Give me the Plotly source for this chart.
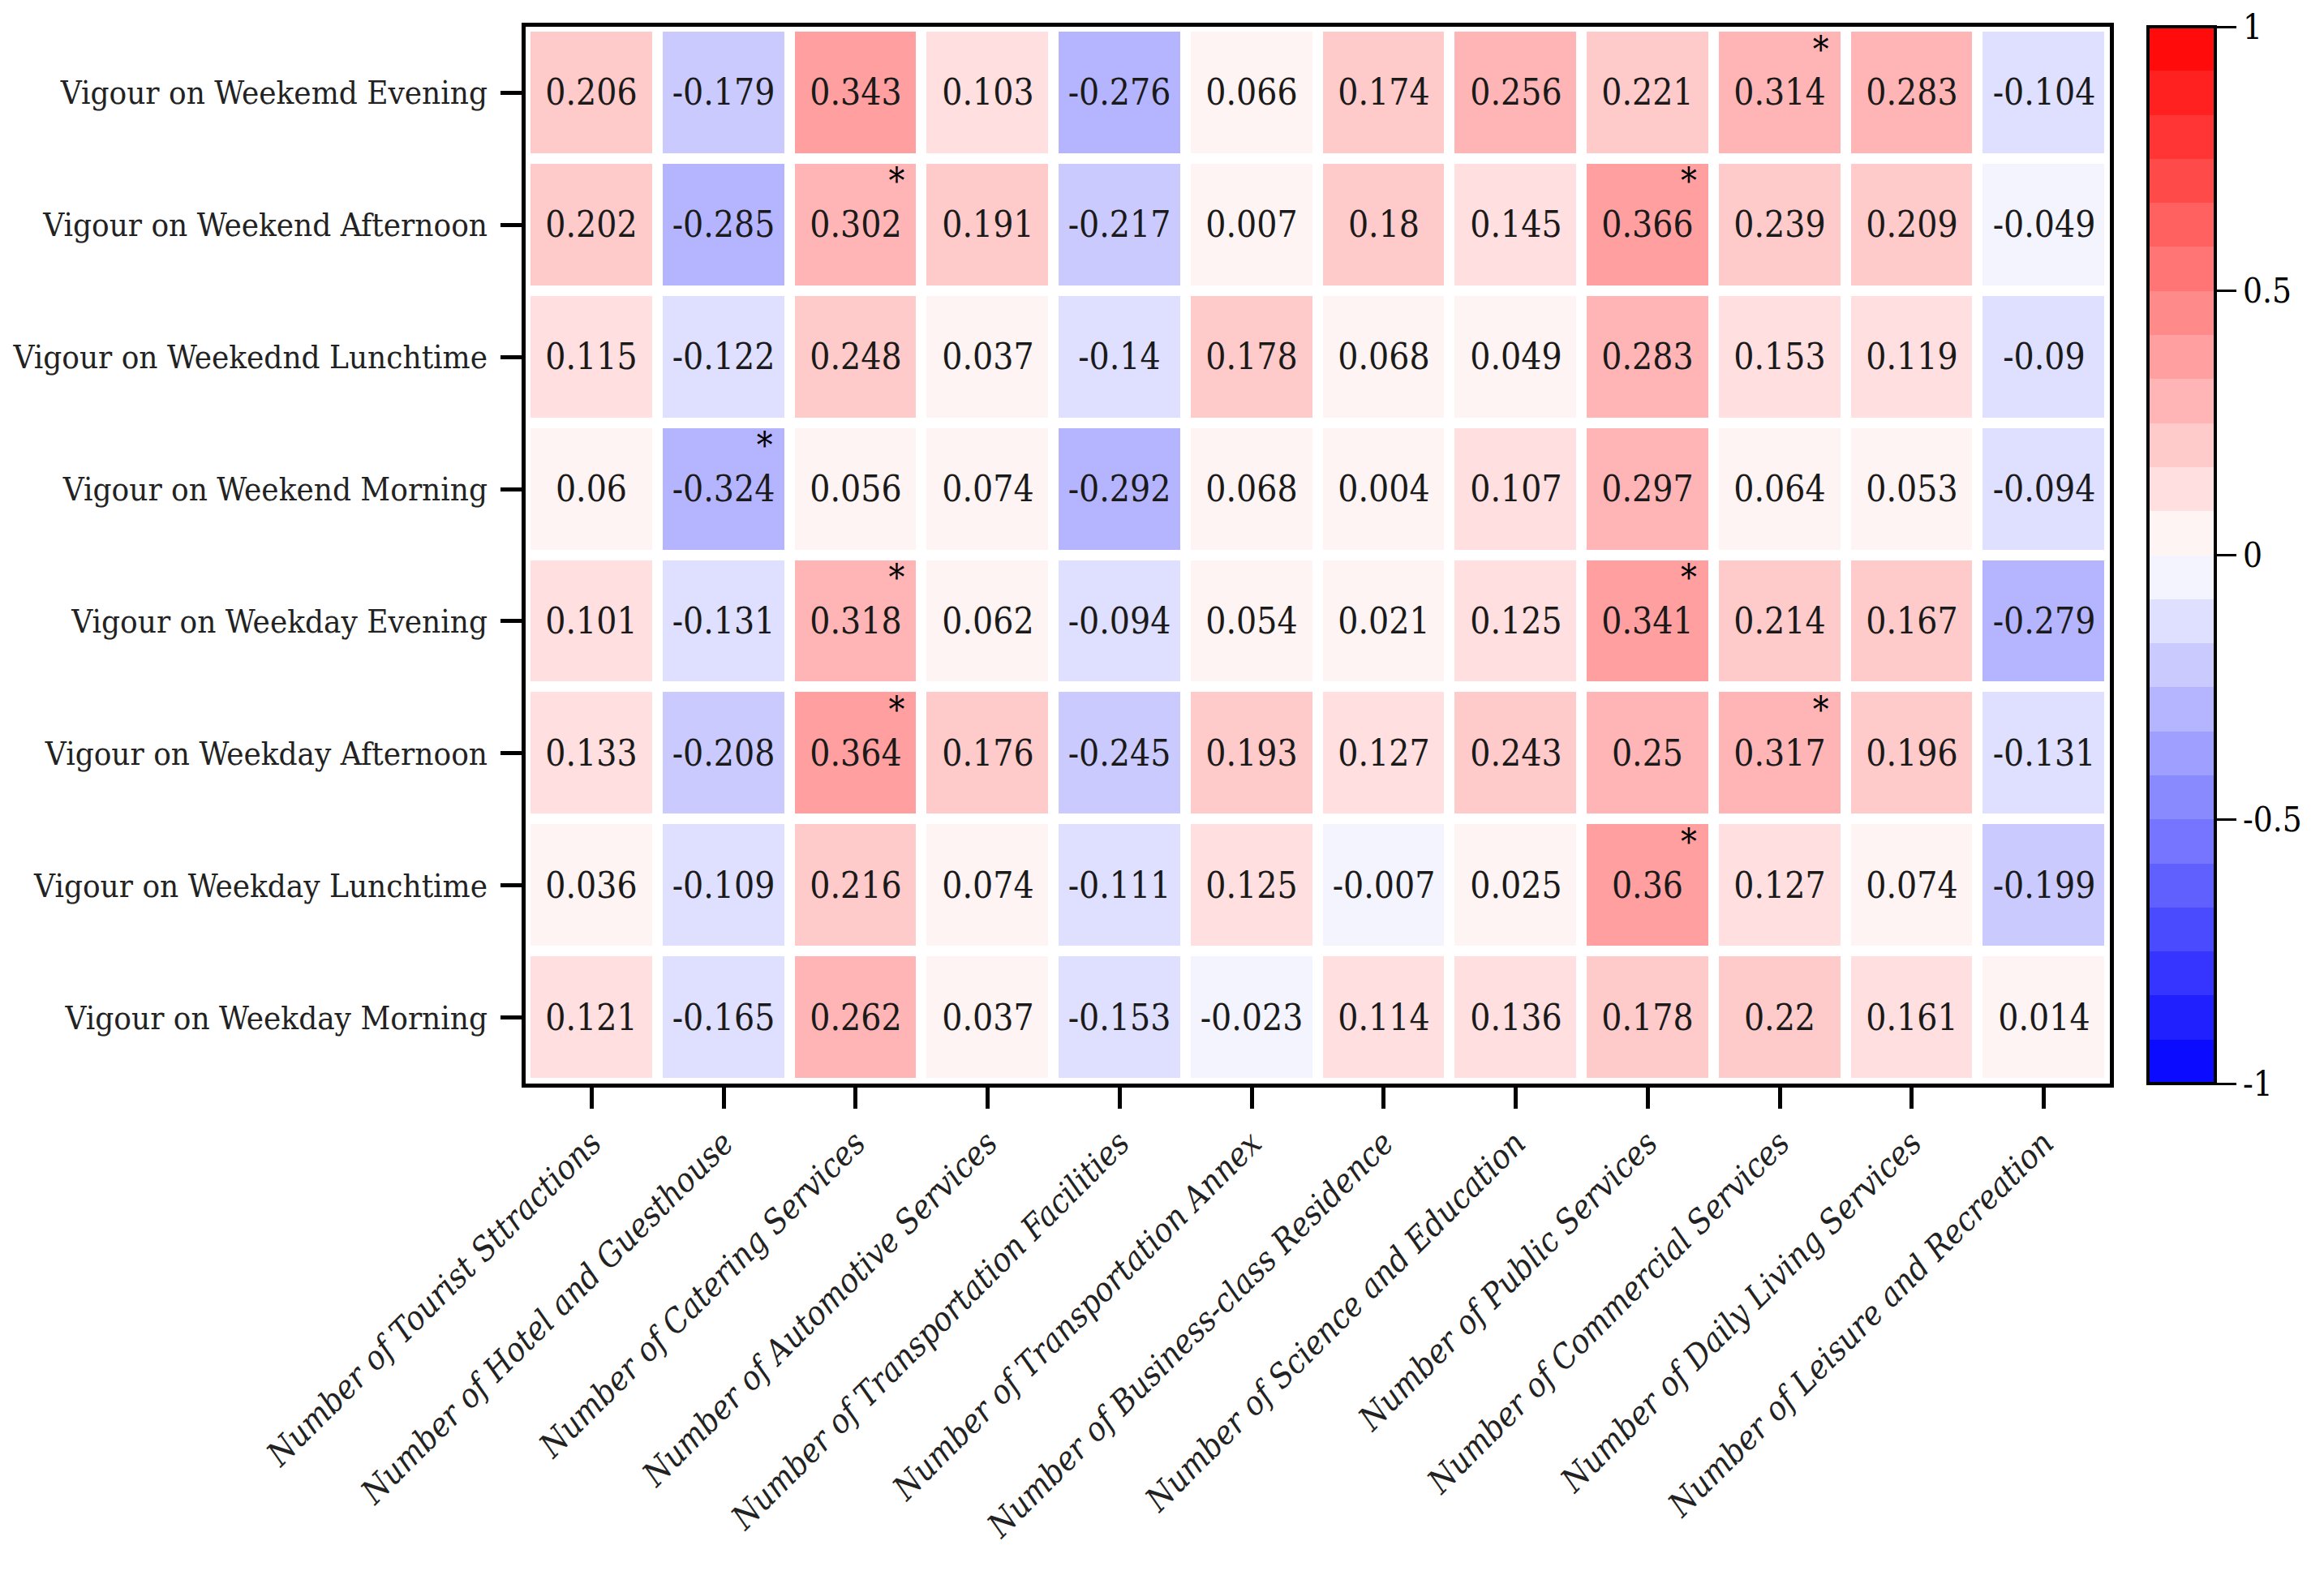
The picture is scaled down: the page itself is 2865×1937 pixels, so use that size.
import plotly.graph_objects as go

row_labels = [
    "Vigour on Weekemd Evening",
    "Vigour on Weekend Afternoon",
    "Vigour on Weekednd Lunchtime",
    "Vigour on Weekend Morning",
    "Vigour on Weekday Evening",
    "Vigour on Weekday Afternoon",
    "Vigour on Weekday Lunchtime",
    "Vigour on Weekday Morning",
]

col_labels = [
    "Number of Tourist Sttractions",
    "Number of Hotel and Guesthouse",
    "Number of Catering Services",
    "Number of Automotive Services",
    "Number of Transportation Facilities",
    "Number of Transportation Annex",
    "Number of Business-class Residence",
    "Number of Science and Education",
    "Number of Public Services",
    "Number of Commercial Services",
    "Number of Daily Living Services",
    "Number of Leisure and Recreation",
]

weekemd_evening = [0.206, -0.179, 0.343, 0.103, -0.276, 0.066, 0.174, 0.256, 0.221, 0.314, 0.283, -0.104]
weekend_afternoon = [0.202, -0.285, 0.302, 0.191, -0.217, 0.007, 0.18, 0.145, 0.366, 0.239, 0.209, -0.049]
weekend_lunchtime = [0.115, -0.122, 0.248, 0.037, -0.14, 0.178, 0.068, 0.049, 0.283, 0.153, 0.119, -0.09]
weekend_morning = [0.06, -0.324, 0.056, 0.074, -0.292, 0.068, 0.004, 0.107, 0.297, 0.064, 0.053, -0.094]
weekday_evening = [0.101, -0.131, 0.318, 0.062, -0.094, 0.054, 0.021, 0.125, 0.341, 0.214, 0.167, -0.279]
weekday_afternoon = [0.133, -0.208, 0.364, 0.176, -0.245, 0.193, 0.127, 0.243, 0.25, 0.317, 0.196, -0.131]
weekday_lunchtime = [0.036, -0.109, 0.216, 0.074, -0.111, 0.125, -0.007, 0.025, 0.36, 0.127, 0.074, -0.199]
weekday_morning = [0.121, -0.165, 0.262, 0.037, -0.153, -0.023, 0.114, 0.136, 0.178, 0.22, 0.161, 0.014]

z = [weekemd_evening, weekend_afternoon, weekend_lunchtime, weekend_morning,
     weekday_evening, weekday_afternoon, weekday_lunchtime, weekday_morning]

# significant cells (row index, column index) marked with an asterisk
significant = [(0, 9), (1, 2), (1, 8), (3, 1), (4, 2), (4, 8), (5, 2), (5, 9), (6, 8)]

colorbar_ticks = [-1, -0.5, 0, 0.5, 1]

# discrete 24-step red-white-blue scale
n_side = 12
scale = []
edges = [i / (2 * n_side) for i in range(2 * n_side + 1)]
for b in range(2 * n_side):
    if b < n_side:
        k = n_side - 1 - b
        g = round(255 * (1 - (k + 0.5) / n_side))
        col = f"rgb({g},{g},255)"
    else:
        k = b - n_side
        g = round(255 * (1 - (k + 0.5) / n_side))
        col = f"rgb(255,{g},{g})"
    scale.append([edges[b], col])
    scale.append([edges[b + 1], col])

FONT = "DejaVu Serif Condensed, Liberation Serif, serif"

xs = list(range(len(col_labels)))
ys = list(range(len(row_labels)))
text = [[str(v) for v in row] for row in z]

fig = go.Figure()
fig.add_trace(go.Heatmap(
    z=z, x=xs, y=ys,
    zmin=-1, zmax=1,
    colorscale=scale,
    xgap=13, ygap=13,
    text=text, texttemplate="%{text}",
    textfont=dict(family=FONT, size=44, color="#1a1a1a"),
    hoverinfo="skip",
    colorbar=dict(
        x=1.024, xanchor="left", xpad=0,
        y=0.5, yanchor="middle", len=1, lenmode="fraction", ypad=0,
        thickness=83, thicknessmode="pixels",
        outlinecolor="black", outlinewidth=4,
        tickmode="array", tickvals=colorbar_ticks,
        ticktext=[str(t) for t in colorbar_ticks],
        ticks="outside", ticklen=24, tickwidth=3, tickcolor="black",
        tickfont=dict(family=FONT, size=42, color="black"),
    ),
))

fig.add_trace(go.Scatter(
    x=[c + 0.31 for r, c in significant],
    y=[r - 0.3 for r, c in significant],
    mode="text", text=["*"] * len(significant),
    textfont=dict(family=FONT, size=44, color="black"),
    hoverinfo="skip", showlegend=False,
))

fig.update_layout(
    width=2849, height=1921,
    margin=dict(l=640, r=256, t=25, b=593, autoexpand=False),
    paper_bgcolor="white", plot_bgcolor="white",
    showlegend=False,
)
fig.update_xaxes(
    range=[-0.5, len(col_labels) - 0.5],
    tickmode="array", tickvals=xs, ticktext=col_labels,
    tickangle=-45,
    tickfont=dict(family=FONT, size=41, color="#222", style="italic"),
    ticks="outside", ticklen=26, tickwidth=5, tickcolor="black",
    showline=True, linecolor="black", linewidth=5, mirror=True,
    showgrid=False, zeroline=False,
    ticklabelstandoff=2, automargin=False,
)
fig.update_yaxes(
    range=[len(row_labels) - 0.5, -0.5],
    tickmode="array", tickvals=ys, ticktext=row_labels,
    tickfont=dict(family=FONT, size=40, color="#222"),
    ticks="outside", ticklen=26, tickwidth=5, tickcolor="black",
    showline=True, linecolor="black", linewidth=5, mirror=True,
    showgrid=False, zeroline=False,
    ticklabelstandoff=8, automargin=False,
)

fig.write_html("out.html")
